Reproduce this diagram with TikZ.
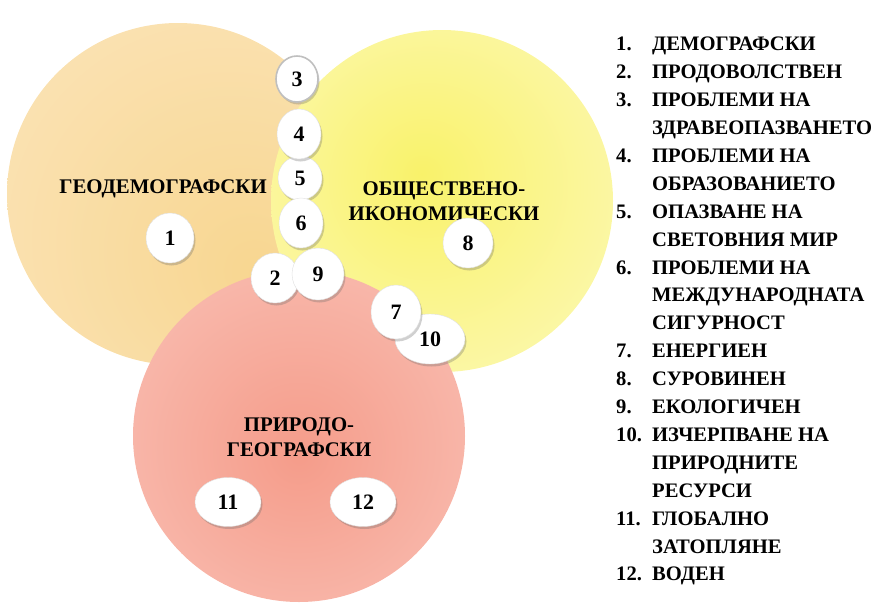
\documentclass[tikz,border=0pt]{standalone}
\usepackage{fontspec}
\setmainfont{Liberation Serif}
\usetikzlibrary{shapes.geometric,shadows}
\definecolor{orIn}{HTML}{F8D690}
\definecolor{orOut}{HTML}{FCEBCD}
\definecolor{yeIn}{HTML}{F9F26A}
\definecolor{yeOut}{HTML}{FDFBD8}
\definecolor{reIn}{HTML}{F59C8A}
\definecolor{reOut}{HTML}{FBD0C8}
\pgfdeclareradialshading{orshade}{\pgfpoint{12bp}{-12bp}}{color(0bp)=(orIn); color(62bp)=(orOut)}
\pgfdeclareradialshading{yeshade}{\pgfpoint{-3bp}{4bp}}{color(0bp)=(yeIn); color(52bp)=(yeOut)}
\pgfdeclareradialshading{reshade}{\pgfpoint{0bp}{-3bp}}{color(0bp)=(reIn); color(52bp)=(reOut)}
\tikzset{
  bigtitle/.style={font=\bfseries\fontsize{20.8}{24.5}\selectfont, align=center, inner sep=0pt},
  numball/.style={ellipse, inner sep=0pt, fill=white, draw=black!12, line width=0.4pt,
    font=\bfseries\fontsize{22}{22}\selectfont,
    drop shadow={opacity=0.3, shadow xshift=1.5pt, shadow yshift=-2.5pt, fill=black!60}},
  legnum/.style={anchor=base west, inner sep=0pt, font=\bfseries\fontsize{20.6}{20.6}\selectfont},
  legtxt/.style={anchor=base west, inner sep=0pt, font=\bfseries\fontsize{20.6}{20.6}\selectfont}
}
\begin{document}
\begin{tikzpicture}[x=1pt,y=-1pt]
\useasboundingbox (0,0) rectangle (873,605);
\begin{scope}
\clip (0,0) rectangle (873,605);
% big circles
\shade[shading=orshade] (178,194) circle (171);
\shade[shading=yeshade] (442,201) circle (171);
\shade[shading=reshade] (299,436) circle (166);
\end{scope}
% titles
\node[bigtitle] (tgeo) at (163,189) {ГЕОДЕМОГРАФСКИ};
\node[bigtitle] (tobs) at (444,201) {ОБЩЕСТВЕНО-\\ИКОНОМИЧЕСКИ};
\node[bigtitle] (tpri) at (299,437) {ПРИРОДО-\\ГЕОГРАФСКИ};
% numbered balls
\node[numball, minimum width=48pt, minimum height=50pt] (n1) at (170,238) {1};
\node[numball, minimum width=50pt, minimum height=50pt] (n8) at (468,243) {8};
\node[numball, minimum width=66pt, minimum height=49pt] (n11) at (228,502) {11};
\node[numball, minimum width=66pt, minimum height=49pt] (n12) at (363,502) {12};
\node[numball, minimum width=42pt, minimum height=46pt, draw=black!25, line width=1.6pt] (n3) at (297,79) {3};
\node[numball, minimum width=44pt, minimum height=44pt] (n5) at (300,178) {5};
\node[numball, minimum width=44pt, minimum height=50pt] (n6) at (301,223) {6};
\node[numball, minimum width=44pt, minimum height=50pt] (n4) at (299,134) {4};
\node[numball, minimum width=48pt, minimum height=50pt] (n2) at (275,278) {2};
\node[numball, minimum width=52pt, minimum height=52pt] (n9) at (318,274) {9};
\node[numball, minimum width=70pt, minimum height=50pt] (n10) at (430,339) {10};
\node[numball, minimum width=50pt, minimum height=54pt] (n7) at (396,312) {7};
% legend
\foreach \i/\num/\txt in {
  0/1./ДЕМОГРАФСКИ, 1/2./ПРОДОВОЛСТВЕН, 2/3./ПРОБЛЕМИ НА, 3//ЗДРАВЕОПАЗВАНЕТО,
  4/4./ПРОБЛЕМИ НА, 5//ОБРАЗОВАНИЕТО, 6/5./ОПАЗВАНЕ НА, 7//СВЕТОВНИЯ МИР,
  8/6./ПРОБЛЕМИ НА, 9//МЕЖДУНАРОДНАТА, 10//СИГУРНОСТ, 11/7./ЕНЕРГИЕН,
  12/8./СУРОВИНЕН, 13/9./ЕКОЛОГИЧЕН, 14/10./ИЗЧЕРПВАНЕ НА, 15//ПРИРОДНИТЕ,
  16//РЕСУРСИ, 17/11./ГЛОБАЛНО, 18//ЗАТОПЛЯНЕ, 19/12./ВОДЕН}{
  \node[legnum] (ln\i) at (616,{44+27.9*\i+6.8}) {\num};
  \node[legtxt] (lt\i) at (652,{44+27.9*\i+6.8}) {\txt};
}
\end{tikzpicture}
\end{document}
